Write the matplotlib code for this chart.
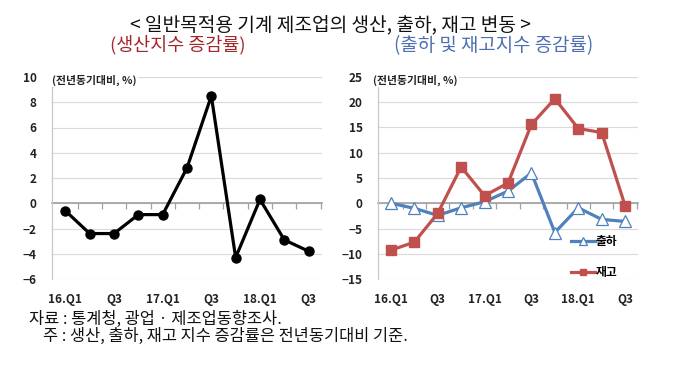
import matplotlib
matplotlib.use('Agg')
import matplotlib.pyplot as plt

plt.rcParams['font.family'] = ['Noto Sans CJK KR', 'DejaVu Sans']

# ---- data ----
quarters = ['16.Q1', '16.Q2', '16.Q3', '16.Q4', '17.Q1', '17.Q2',
            '17.Q3', '17.Q4', '18.Q1', '18.Q2', '18.Q3']
xtick_labels = ['16.Q1', '', 'Q3', '', '17.Q1', '', 'Q3', '', '18.Q1', '', 'Q3']
production = [-0.6, -2.4, -2.4, -0.9, -0.9, 2.8, 8.5, -4.3, 0.3, -2.9, -3.8]
shipment = [0.0, -1.0, -2.4, -0.9, 0.3, 2.4, 6.0, -5.8, -0.9, -3.2, -3.6]
inventory = [-9.3, -7.7, -2.0, 7.2, 1.5, 4.0, 15.6, 20.7, 14.8, 14.0, -0.5]
left_yticks = [-6, -4, -2, 0, 2, 4, 6, 8, 10]
right_yticks = [-15, -10, -5, 0, 5, 10, 15, 20, 25]

title = '< 일반목적용 기계 제조업의 생산, 출하, 재고 변동 >'
sub_left = '(생산지수 증감률)'
sub_right = '(출하 및 재고지수 증감률)'
unit = '(전년동기대비, %)'
note1 = '자료 : 통계청, 광업 · 제조업동향조사.'
note2 = '주 : 생산, 출하, 재고 지수 증감률은 전년동기대비 기준.'

W, H = 680, 374
fig = plt.figure(figsize=(W / 100, H / 100), dpi=100)

def px_axes(x0, y0, x1, y1):
    return fig.add_axes([x0 / W, 1 - y1 / H, (x1 - x0) / W, (y1 - y0) / H])

ax1 = px_axes(52, 77, 322, 279)
ax2 = px_axes(378, 77, 638, 279)

n = len(quarters)
xs = list(range(n))

def style(ax, yticks, unit_x):
    ax.set_xlim(-0.55, n - 0.45)
    ax.set_ylim(yticks[0], yticks[-1])
    ax.set_yticks(yticks)
    ax.set_xticks(xs)
    ax.set_xticklabels(xtick_labels)
    ax.tick_params(axis='x', length=0, pad=10, labelsize=8.5, labelcolor='#222222')
    ax.tick_params(axis='y', length=0, pad=11, labelsize=8.5, labelcolor='#222222')
    for lab in ax.get_xticklabels() + ax.get_yticklabels():
        lab.set_fontweight('bold')
    for s in ['top', 'right', 'bottom']:
        ax.spines[s].set_visible(False)
    ax.spines['left'].set_color('#C8C8C8')
    ax.spines['left'].set_linewidth(0.9)
    ax.grid(axis='y', color='#DADADA', lw=0.8)
    ax.set_axisbelow(True)
    frac = (0 - yticks[0]) / (yticks[-1] - yticks[0])
    sec = ax.secondary_xaxis(frac)
    sec.set_xticks([i + 0.5 for i in xs])
    sec.set_xticklabels([])
    sec.tick_params(length=4, color='#A0A0A0', width=0.9, direction='out')
    sec.spines['bottom'].set_color('#A0A0A0')
    sec.spines['bottom'].set_linewidth(1.2)
    sec.set_zorder(1)
    ax.text(unit_x, 0.985, unit, transform=ax.transAxes, ha='left', va='center',
            fontsize=7.8, fontweight='bold', color='#222222',
            bbox=dict(fc='white', ec='none', pad=1.0), zorder=3)

style(ax1, left_yticks, 0.0)
style(ax2, right_yticks, -0.02)

ax1.plot(xs, production, color='black', lw=2.3, marker='o', ms=6.5, zorder=4)

l_ship, = ax2.plot(xs, shipment, color='#4F81BD', lw=2.3, marker='^', ms=8.5,
                   mfc='white', mec='#4F81BD', mew=0.9, label='출하', zorder=4)
l_inv, = ax2.plot(xs, inventory, color='#C0504D', lw=2.3, marker='s', ms=6.5,
                  label='재고', zorder=5)
leg = ax2.legend(handles=[l_ship, l_inv], loc='lower left', bbox_to_anchor=(0.72, -0.03),
                 frameon=False, handlelength=2.0, handletextpad=0.1,
                 labelspacing=1.5, borderpad=0, markerscale=0.75,
                 prop={'weight': 'bold', 'size': 8.5})

fig.text(330 / W, 1 - 25 / H, title, ha='center', va='center', fontsize=13.8, color='#111111')
fig.text(178 / W, 1 - 45 / H, sub_left, ha='center', va='center', fontsize=13.3, color='#A3262A')
fig.text(494 / W, 1 - 46 / H, sub_right, ha='center', va='center', fontsize=13.6, color='#4E6FB0')
fig.text(29 / W, 1 - 319 / H, note1, ha='left', va='center', fontsize=11.8, color='#111111')
fig.text(43 / W, 1 - 336 / H, note2, ha='left', va='center', fontsize=11.8, color='#111111')

fig.savefig('out.png', dpi=100)
